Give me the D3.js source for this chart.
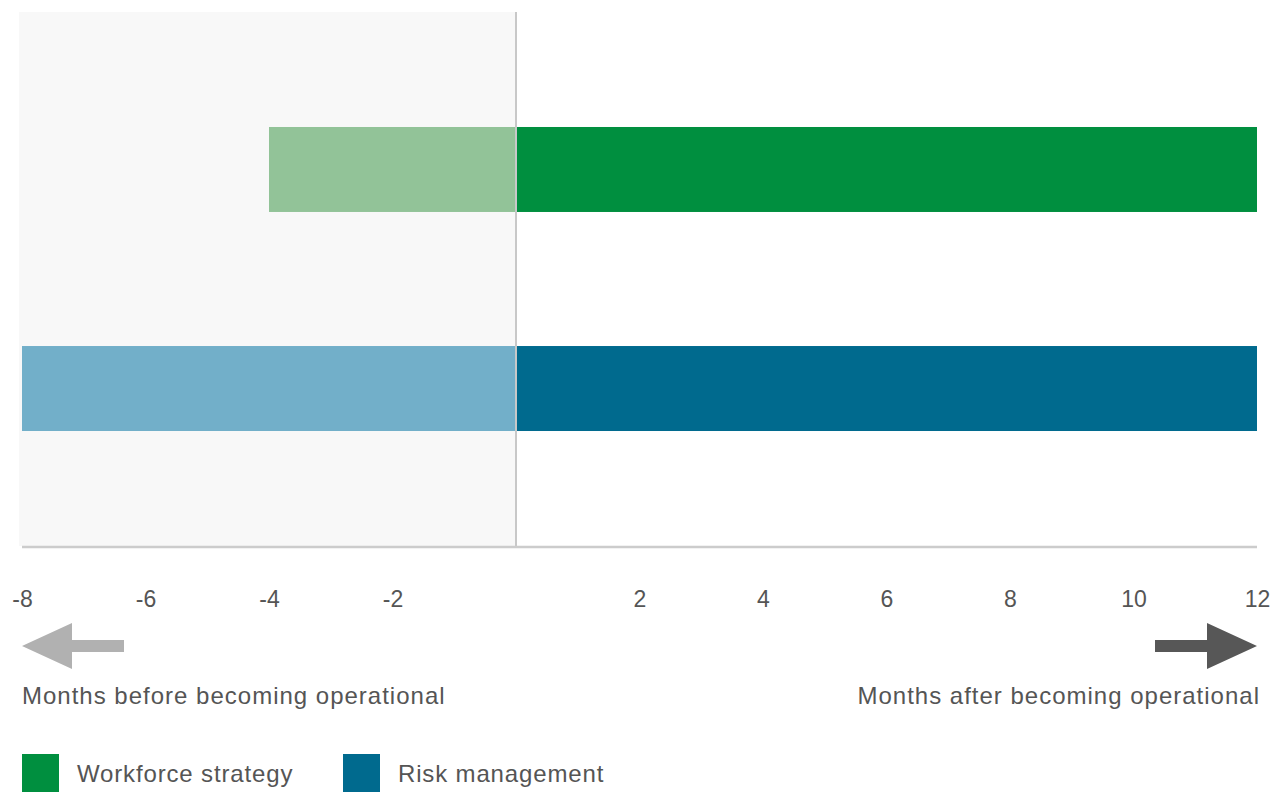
<!DOCTYPE html>
<html><head><meta charset="utf-8">
<script src="https://cdn.jsdelivr.net/npm/d3@7"></script>
<style>body{margin:0;background:#fff;}svg{display:block;font-family:"Liberation Sans",Arial,sans-serif;}</style>
</head><body><svg id="c" width="1275" height="792"></svg>
<script>
const categories = ["Workforce strategy", "Risk management"];
const startBefore = [-4, -8];
const endAfter = [12, 12];
const tickValues = [-8, -6, -4, -2, 2, 4, 6, 8, 10, 12];
const darkColors = ["#008f3f", "#006a8e"];
const lightColors = ["#92c398", "#72afc9"];
const leftLabel = "Months before becoming operational";
const rightLabel = "Months after becoming operational";

const svg = d3.select("#c");
const x = d3.scaleLinear().domain([-8, 12]).range([22, 1257]);
const y = d3.scaleBand().domain(categories).range([12, 546]).paddingInner(0.612).paddingOuter(0.525);

// shaded "before" region
svg.append("rect").attr("x", 19).attr("y", 12).attr("width", x(0) - 19).attr("height", 534).attr("fill", "#f8f8f8");

// bars
const g = svg.append("g");
categories.forEach((c, i) => {
  g.append("rect").attr("x", x(startBefore[i])).attr("y", y(c)).attr("width", x(0) - x(startBefore[i])).attr("height", y.bandwidth()).attr("fill", lightColors[i]);
  g.append("rect").attr("x", x(0)).attr("y", y(c)).attr("width", x(endAfter[i]) - x(0)).attr("height", y.bandwidth()).attr("fill", darkColors[i]);
});

// zero line
svg.append("line").attr("x1", x(0)).attr("x2", x(0)).attr("y1", 12).attr("y2", 547).attr("stroke", "#c8c8c8").attr("stroke-width", 2);
// axis line
svg.append("line").attr("x1", 22).attr("x2", 1257).attr("y1", 547).attr("y2", 547).attr("stroke", "#cccccc").attr("stroke-width", 2.5);

// ticks via d3 axis
const axis = d3.axisBottom(x).tickValues(tickValues).tickSize(0).tickPadding(0).tickFormat(d => d);
const ax = svg.append("g").attr("transform", "translate(0,591)").call(axis);
ax.select(".domain").remove();
ax.selectAll("text").attr("font-size", 23).attr("fill", "#555").attr("font-family", "'Liberation Sans',Arial,sans-serif");

// arrows
const yA = 646;
svg.append("path").attr("d", `M${x(-8)},${yA} L${x(-8)+50},${yA-23} L${x(-8)+50},${yA-6} L${x(-8)+102},${yA-6} L${x(-8)+102},${yA+6} L${x(-8)+50},${yA+6} L${x(-8)+50},${yA+23} Z`).attr("fill", "#b1b1b1");
svg.append("path").attr("d", `M${x(12)},${yA} L${x(12)-50},${yA-23} L${x(12)-50},${yA-6} L${x(12)-102},${yA-6} L${x(12)-102},${yA+6} L${x(12)-50},${yA+6} L${x(12)-50},${yA+23} Z`).attr("fill", "#575757");

svg.append("text").attr("x", 22).attr("y", 704).attr("font-size", 24).attr("letter-spacing", "1px").attr("fill", "#555").text(leftLabel);
svg.append("text").attr("x", 1260).attr("y", 704).attr("text-anchor", "end").attr("font-size", 24).attr("letter-spacing", "1px").attr("fill", "#555").text(rightLabel);

// legend
const legX = [22, 343];
categories.forEach((c, i) => {
  svg.append("rect").attr("x", legX[i]).attr("y", 754).attr("width", 37).attr("height", 38).attr("fill", darkColors[i]);
  svg.append("text").attr("x", legX[i] + 55).attr("y", 782).attr("font-size", 24).attr("letter-spacing", "0.85px").attr("fill", "#555").text(c);
});
</script></body></html>
